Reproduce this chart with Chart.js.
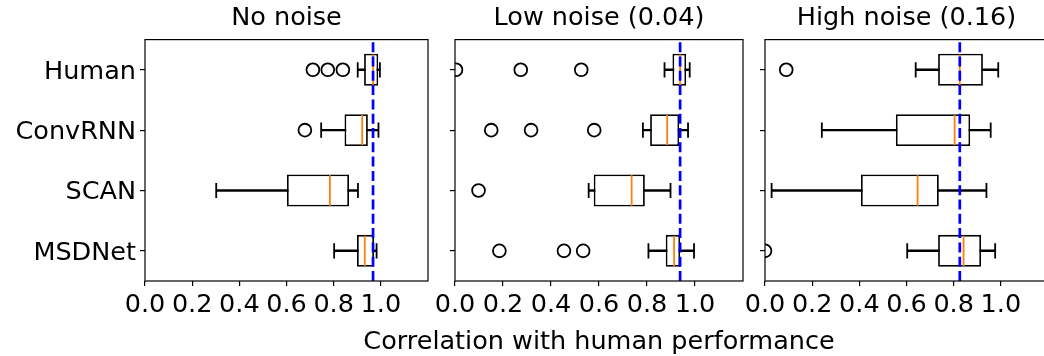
<!DOCTYPE html>
<html>
<head>
<meta charset="utf-8">
<script src="https://cdn.jsdelivr.net/npm/chart.js@4.4.1/dist/chart.umd.min.js"></script>
<style>
html,body{margin:0;padding:0;background:#fff;overflow:hidden;width:1044px;height:356px;}
#wrap{position:relative;width:1044px;height:356px;overflow:hidden;background:#fff;}
.c{position:absolute;top:0;height:356px;}
canvas{display:block;}
</style>
</head>
<body>
<div id="wrap">
  <div class="c" style="left:0;width:445px"><canvas id="c1" width="445" height="356"></canvas></div>
  <div class="c" style="left:299px;width:600px"><canvas id="c2" width="600" height="356"></canvas></div>
  <div class="c" style="left:735px;width:330px"><canvas id="c3" width="330" height="356"></canvas></div>
</div>
<script>
// ---------- data ----------
const categories = ['Human', 'ConvRNN', 'SCAN', 'MSDNet'];
const panelTitles = ['No noise', 'Low noise (0.04)', 'High noise (0.16)'];
const xAxisTitle = 'Correlation with human performance';
const xTickValues = [0.0, 0.2, 0.4, 0.6, 0.8, 1.0];

// No noise
const noNoiseQ1 = [0.929, 0.846, 0.602, 0.899];
const noNoiseMedian = [0.967, 0.921, 0.784, 0.932];
const noNoiseQ3 = [0.989, 0.945, 0.865, 0.971];
const noNoiseWhiskerLow = [0.902, 0.747, 0.302, 0.802];
const noNoiseWhiskerHigh = [0.996, 0.990, 0.903, 0.982];
const noNoiseOutliers = [[0.712, 0.775, 0.839], [0.678], [], []];

// Low noise (0.04)
const lowNoiseQ1 = [0.906, 0.813, 0.578, 0.878];
const lowNoiseMedian = [0.938, 0.884, 0.736, 0.913];
const lowNoiseQ3 = [0.963, 0.934, 0.791, 0.938];
const lowNoiseWhiskerLow = [0.873, 0.783, 0.557, 0.806];
const lowNoiseWhiskerHigh = [0.978, 0.971, 0.898, 0.996];
const lowNoiseOutliers = [[0.004, 0.274, 0.526], [0.151, 0.317, 0.580], [0.098], [0.185, 0.454, 0.534]];

// High noise (0.16)
const highNoiseQ1 = [0.734, 0.555, 0.407, 0.734];
const highNoiseMedian = [0.826, 0.804, 0.647, 0.842];
const highNoiseQ3 = [0.924, 0.870, 0.737, 0.916];
const highNoiseWhiskerLow = [0.639, 0.241, 0.028, 0.603];
const highNoiseWhiskerHigh = [0.989, 0.957, 0.939, 0.976];
const highNoiseOutliers = [[0.090], [], [], [0.0]];

// ---------- rendering ----------
const FONT = "'DejaVu Sans', sans-serif";
const FS = 25.5;
const LW = 1.8;
Chart.defaults.color = '#000';
Chart.defaults.font.family = FONT;

const framePlugin = {
  id: 'frame',
  afterDatasetsDraw(chart, args, o) {
    const {ctx, chartArea: a, scales: {x}} = chart;
    const px = x.getPixelForValue(o.refValue);
    ctx.save();
    ctx.beginPath();
    ctx.rect(a.left, a.top, a.right - a.left, a.bottom - a.top);
    ctx.clip();
    ctx.strokeStyle = '#0000ff';
    ctx.lineWidth = 2.7;
    ctx.setLineDash([10, 4.3]);
    ctx.beginPath();
    ctx.moveTo(px, a.bottom);
    ctx.lineTo(px, a.top);
    ctx.stroke();
    ctx.restore();
    ctx.save();
    ctx.strokeStyle = '#000';
    ctx.lineWidth = 1.2;
    ctx.strokeRect(a.left, a.top, a.right - a.left, a.bottom - a.top);
    ctx.restore();
  },
  afterDraw(chart, args, o) {
    if (!o.xTitle) return;
    const {ctx, chartArea: a} = chart;
    ctx.save();
    ctx.fillStyle = '#000';
    ctx.font = FS + 'px ' + FONT;
    ctx.textAlign = 'center';
    ctx.textBaseline = 'alphabetic';
    ctx.fillText(o.xTitle, (a.left + a.right) / 2, chart.height - 7.5);
    ctx.restore();
  }
};

function buildPanel(canvasId, title, q1, med, q3, wl, wh, outl, cfg) {
  const caps = [];
  const fliers = [];
  categories.forEach((c, i) => {
    caps.push({x: wl[i], y: c}, {x: wh[i], y: c});
    outl[i].forEach(v => fliers.push({x: v, y: c}));
  });
  const datasets = [
    {type: 'bar', data: wl.map((v, i) => [v, wh[i]]), backgroundColor: '#000', borderWidth: 0,
     barThickness: LW, grouped: false, order: 5},
    {type: 'bar', data: q1.map((v, i) => [v, q3[i]]), backgroundColor: '#fff', borderColor: '#000',
     borderWidth: LW, borderSkipped: false, barPercentage: 0.53, categoryPercentage: 1, grouped: false, order: 4},
    {type: 'scatter', data: caps, pointStyle: 'line', rotation: 90, radius: 7.6, borderColor: '#000',
     borderWidth: LW, order: 3},
    {type: 'scatter', data: med.map((v, i) => ({x: v, y: categories[i]})), pointStyle: 'line', rotation: 90,
     radius: 15.2, borderColor: '#ff7f0e', borderWidth: LW, order: 2},
    {type: 'scatter', data: fliers, pointStyle: 'circle', radius: 6.4, borderColor: '#000',
     backgroundColor: 'rgba(0,0,0,0)', borderWidth: LW, clip: 0, order: 1}
  ];
  return new Chart(document.getElementById(canvasId), {
    type: 'bar',
    data: {labels: categories, datasets},
    plugins: [framePlugin],
    options: {
      responsive: false,
      animation: false,
      events: [],
      indexAxis: 'y',
      layout: {padding: cfg.padding},
      scales: {
        x: {
          type: 'linear', min: 0, max: 1.2,
          afterBuildTicks: s => { s.ticks = xTickValues.map(v => ({value: v})); },
          afterFit: s => { s.height = cfg.xHeight; },
          ticks: {font: {size: FS, family: FONT}, color: '#000', padding: 4, maxRotation: 0, minRotation: 0,
                  autoSkip: false, callback: v => Number(v).toFixed(1)},
          grid: {drawOnChartArea: false, drawTicks: true, tickLength: 5, color: '#000', lineWidth: 1.2},
          border: {display: false}
        },
        y: {
          type: 'category', offset: true,
          afterFit: s => { s.width = cfg.yWidth; },
          ticks: {display: cfg.showY, font: {size: FS, family: FONT}, color: '#000', padding: 4, labelOffset: 2.3},
          grid: {drawOnChartArea: false, drawTicks: true, tickLength: 5, color: '#000', lineWidth: 1.2, offset: false},
          border: {display: false}
        }
      },
      plugins: {
        legend: {display: false},
        tooltip: {enabled: false},
        title: {display: true, text: title, fullSize: false, color: '#000',
                font: {size: FS, family: FONT, weight: 'normal'}, padding: {top: 3, bottom: 6}},
        frame: {refValue: med[0], xTitle: cfg.xTitle ? xAxisTitle : null}
      }
    }
  });
}

buildPanel('c1', panelTitles[0], noNoiseQ1, noNoiseMedian, noNoiseQ3, noNoiseWhiskerLow, noNoiseWhiskerHigh, noNoiseOutliers,
  {padding: {left: 0, right: 12, top: 0, bottom: 0}, yWidth: 145, xHeight: 75, showY: true, xTitle: false});
buildPanel('c2', panelTitles[1], lowNoiseQ1, lowNoiseMedian, lowNoiseQ3, lowNoiseWhiskerLow, lowNoiseWhiskerHigh, lowNoiseOutliers,
  {padding: {left: 146, right: 156, top: 0, bottom: 0}, yWidth: 10, xHeight: 75, showY: false, xTitle: true});
buildPanel('c3', panelTitles[2], highNoiseQ1, highNoiseMedian, highNoiseQ3, highNoiseWhiskerLow, highNoiseWhiskerHigh, highNoiseOutliers,
  {padding: {left: 20, right: 12, top: 0, bottom: 0}, yWidth: 10, xHeight: 75, showY: false, xTitle: false});
</script>
</body>
</html>
